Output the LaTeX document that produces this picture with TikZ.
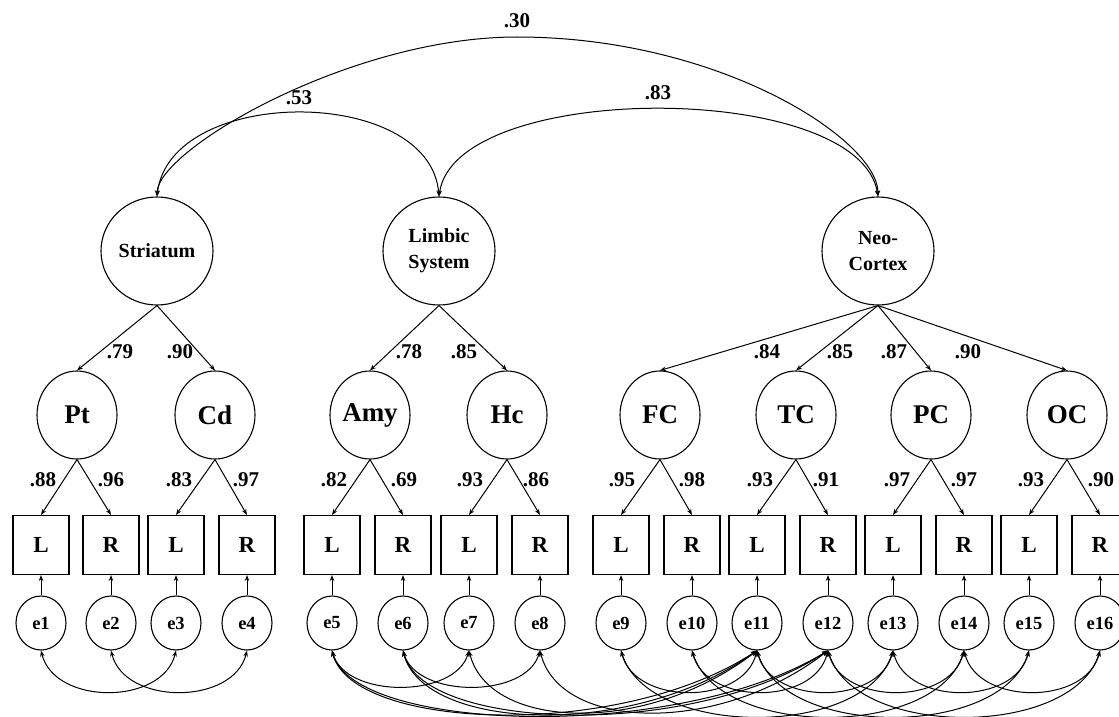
\documentclass[tikz,border=0pt]{standalone}
\usepackage{fontspec}
\setmainfont{Liberation Serif}
\usetikzlibrary{shapes.geometric,arrows.meta}
\begin{document}
\begin{tikzpicture}[x=1pt,y=-1pt,
 lat/.style={draw,ellipse,line width=1.1pt,minimum width=112pt,minimum height=108pt,inner sep=0pt,align=center,font=\bfseries\fontsize{20}{26}\selectfont},
 fac/.style={draw,ellipse,line width=1.1pt,minimum width=80pt,minimum height=88pt,inner sep=0pt,font=\bfseries\fontsize{27}{30}\selectfont},
 obs/.style={draw,rectangle,line width=1.1pt,minimum width=56pt,minimum height=59pt,inner sep=0pt,font=\bfseries\fontsize{23}{26}\selectfont},
 err/.style={draw,ellipse,line width=1.1pt,minimum width=50pt,minimum height=54pt,inner sep=0pt,font=\bfseries\fontsize{18.5}{20}\selectfont},
 coef/.style={inner sep=0pt,font=\bfseries\fontsize{21}{24}\selectfont},
 arr/.style={line width=1pt,-{Stealth[length=6pt,width=4.5pt]}},
 cov/.style={line width=1pt,{Stealth[length=6pt,width=4.5pt]}-{Stealth[length=6pt,width=4.5pt]}},
]
\fill[white] (0,0) rectangle (1119,717);
\useasboundingbox (0,0) rectangle (1119,717);

% second-order factors
\node[lat] (Str) at (157,251) {Striatum};
\node[lat] (Lim) at (439,251) {Limbic\\System};
\node[lat] (Neo) at (878,251) {Neo-\\Cortex};

% first-order factors
\node[fac] (Pt) at (77,415) {Pt};
\node[fac] (Cd) at (215,415) {Cd};
\node[fac] (Amy) at (370,415) {Amy};
\node[fac] (Hc) at (507,415) {Hc};
\node[fac] (FC) at (660,415) {FC};
\node[fac] (TC) at (796,415) {TC};
\node[fac] (PC) at (931,415) {PC};
\node[fac] (OC) at (1067,415) {OC};

% observed and errors
\foreach \i/\x/\t in {1/41/L,2/111/R,3/176/L,4/247/R,5/332/L,6/403/R,7/469/L,8/540/R,
  9/621/L,10/692/R,11/757/L,12/828/R,13/893/L,14/964/R,15/1029/L,16/1100/R}{
  \node[obs] (o\i) at (\x,545) {\t};
  \node[err] (e\i) at (\x,623) {e\i};
  \draw[arr] (e\i.north) -- (o\i.south);
}

% loadings
\foreach \f/\a/\b in {Pt/1/2,Cd/3/4,Amy/5/6,Hc/7/8,FC/9/10,TC/11/12,PC/13/14,OC/15/16}{
  \draw[arr] (\f.south) -- (o\a.north);
  \draw[arr] (\f.south) -- (o\b.north);
}
\draw[arr] (Str.south) -- (Pt.north);
\draw[arr] (Str.south) -- (Cd.north);
\draw[arr] (Lim.south) -- (Amy.north);
\draw[arr] (Lim.south) -- (Hc.north);
\foreach \f in {FC,TC,PC,OC}{\draw[arr] (Neo.south) -- (\f.north);}

% factor correlations
\coordinate (apex) at (517,37);
\draw[line width=1pt,{Stealth[length=6pt,width=4.5pt]}-] (Str.north) .. controls (157,150) and (350,37) .. (apex);
\draw[line width=1pt,-{Stealth[length=6pt,width=4.5pt]}] (apex) .. controls (720,37) and (878,140) .. (Neo.north);
\draw[cov] (Str.north) .. controls (170,85) and (430,85) .. (Lim.north);
\draw[cov] (Lim.north) .. controls (455,80) and (860,80) .. (Neo.north);

% coefficient labels
\node[coef] at (517,21) {.30};
\node[coef] at (299,98) {.53};
\node[coef] at (658,93) {.83};
\foreach \x/\t in {120/.79,180/.90,409/.78,464/.85,767/.84,840/.85,894/.87,968/.90}{
  \node[coef] at (\x,352) {\t};
}
\foreach \x/\t in {43/.88,111/.96,179/.83,246/.97,334/.82,404/.69,470/.93,536/.86,
  622/.95,692/.98,760/.93,826/.91,897/.97,964/.97,1031/.93,1101/.90}{
  \node[coef] at (\x,480) {\t};
}

% error covariances (symmetric arcs)
\foreach \a/\b/\dx/\dy in {1/3/13.5/55,2/4/13.6/55,5/7/14/48,6/8/14/48,
  9/11/14/55,10/12/14/55,11/13/14/55,12/14/14/55,13/15/14/55,14/16/14/55,
  9/13/27/88,10/14/27/88,11/15/27/88,12/16/27/88}{
  \draw[cov] (e\a.south) .. controls +(\dx,\dy) and +(-\dx,\dy) .. (e\b.south);
}
% limbic-neocortex error covariances
\foreach \a/\b/\ax/\ay/\bx/\by in {5/11/20/80/137/90,5/12/22/82/150/92,
  6/11/20/80/125/90,6/12/20/80/137/90,7/11/20/80/110/85,8/12/20/80/110/85}{
  \draw[cov] (e\a.south) .. controls +(\ax,\ay) and +(-\bx,\by) .. (e\b.south);
}
\end{tikzpicture}
\end{document}
